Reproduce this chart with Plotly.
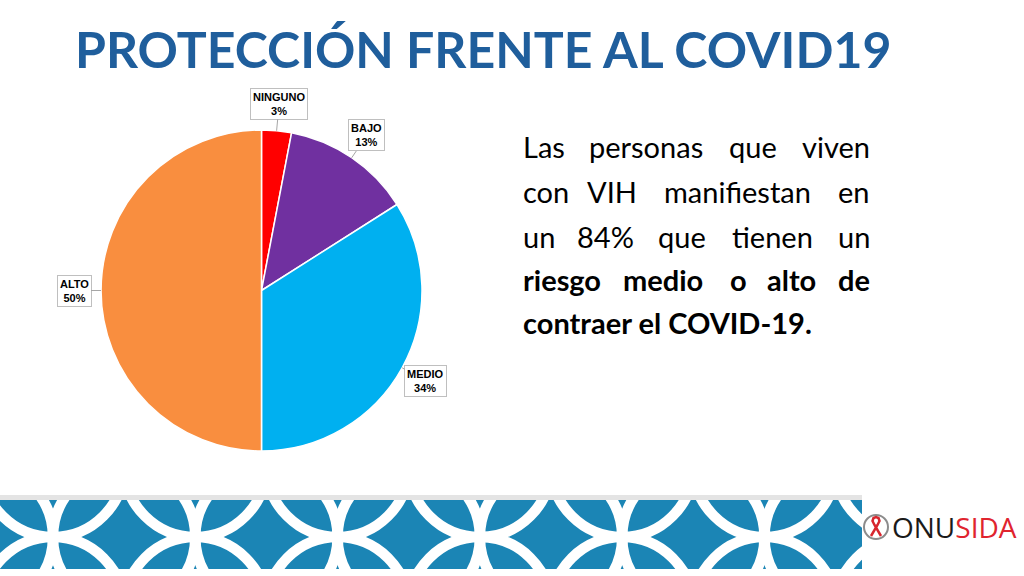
import numpy as np
import plotly.graph_objects as go

W, H = 1024, 576

# ---- data ----
categories = ["NINGUNO", "BAJO", "MEDIO", "ALTO"]
values = [3, 13, 34, 50]
slice_colors = ["#FF0000", "#7030A0", "#00B0F0", "#F98E3F"]

title_text = "PROTECCIÓN FRENTE AL COVID19"
body_words = [
    ["Las", "personas", "que", "viven"],
    ["con", "VIH", "manifiestan", "en"],
    ["un", "84%", "que", "tienen", "un"],
    ["riesgo", "medio", "o", "alto", "de"],
    ["contraer el COVID-19."],
]
body_bold = [False, False, False, True, True]

# ---- layout helpers ----
def px(x):
    return x / W


def py(y):
    return 1 - y / H


fig = go.Figure()

# pie
cx, cy, R = 261.5, 290.5, 160.5
fig.add_trace(go.Pie(
    labels=categories, values=values, sort=False, direction="clockwise",
    rotation=0, textinfo="none", hoverinfo="label+percent",
    marker=dict(colors=slice_colors, line=dict(color="white", width=1.5)),
    domain=dict(x=[px(cx - R), px(cx + R)], y=[py(cy + R), py(cy - R)]),
    showlegend=False,
))

annotations = []
vals = np.array(values, dtype=float)
total = vals.sum()
mids = (np.cumsum(vals) - vals / 2) / total * 2 * np.pi
lead = 27
for cat, v, th in zip(categories, vals, mids):
    hx = cx + R * np.sin(th)
    hy = cy - R * np.cos(th)
    annotations.append(dict(
        x=px(hx), y=py(hy), xref="paper", yref="paper",
        text=f"<b>{cat}</b><br><b>{round(v / total * 100)}%</b>",
        showarrow=True, ax=lead * np.sin(th), ay=-lead * np.cos(th),
        arrowhead=0, arrowwidth=1, arrowcolor="#A6A6A6", standoff=0,
        bgcolor="white", bordercolor="#BFBFBF", borderwidth=1, borderpad=2,
        font=dict(family="Liberation Sans, Arial", size=11, color="#000000"),
        align="center",
    ))

# title
annotations.append(dict(
    x=px(482.5), y=py(49), xref="paper", yref="paper", showarrow=False,
    text=f"<b>{title_text}</b>", xanchor="center", yanchor="middle",
    font=dict(family="Lato", size=50, color="#1F5E9C"),
))

# body text, justified by word placement
word_x = [
    [521, 646, 753, 872],
    [521, 612, 737.5, 872],
    [521, 605, 681.5, 772.5, 872],
    [521, 662.5, 738.5, 791, 872],
    [521],
]
line_y = [147, 192, 236, 279, 322]
for words, xs, yy, bold in zip(body_words, word_x, line_y, body_bold):
    n = len(words)
    for i, (w, xx) in enumerate(zip(words, xs)):
        if i == 0:
            anchor = "left"
        elif i == n - 1:
            anchor = "right"
        else:
            anchor = "center"
        annotations.append(dict(
            x=px(xx), y=py(yy), xref="paper", yref="paper", showarrow=False,
            text=f"<b>{w}</b>" if bold else w, xanchor=anchor, yanchor="middle",
            font=dict(family="Lato", size=29, color="#000000"),
        ))

# logo text
annotations.append(dict(
    x=px(954.5), y=py(527), xref="paper", yref="paper", showarrow=False,
    text="ONU<span style='color:#E0242E'>SIDA</span>", xanchor="center", yanchor="middle",
    font=dict(family="Open Sans", size=28, color="#1A1A1A"),
))

shapes = []
# gray strip above banner
shapes.append(dict(type="rect", xref="paper", yref="paper",
                   x0=0, x1=px(862), y0=py(500), y1=py(495),
                   fillcolor="#E4E4E4", line=dict(width=0), layer="below"))

# banner pattern (interlocking circles), clipped by banner axes
period = 142.3
j0 = 53.0
rb = period / 2
ym = 537.0
centers = []
for k in range(-1, 8):
    centers.append((j0 + rb + period * k, ym))
for k in range(-1, 8):
    centers.append((j0 + period * k, ym - rb))
    centers.append((j0 + period * k, ym + rb))
for (ccx, ccy) in centers:
    shapes.append(dict(type="circle", xref="x", yref="y",
                       x0=ccx - rb, x1=ccx + rb, y0=ccy - rb, y1=ccy + rb,
                       line=dict(color="white", width=10.5), fillcolor="rgba(0,0,0,0)"))

# emblem: wreath ring with red ribbon
ex, ey, er = 876, 527, 12
shapes.append(dict(type="circle", xref="paper", yref="paper",
                   x0=px(ex - er), x1=px(ex + er), y0=py(ey + er), y1=py(ey - er),
                   line=dict(color="#8C8C8C", width=2)))
rib = [(-5, 9), (1.5, -2), (3.5, -6), (2.5, -9), (0, -10), (-2.5, -9), (-3.5, -6), (-1.5, -2), (5, 9)]
path = "M " + " L ".join(f"{px(ex + a):.5f},{py(ey + b):.5f}" for a, b in rib)
shapes.append(dict(type="path", xref="paper", yref="paper", path=path,
                   line=dict(color="#D7262E", width=2.5)))

# empty trace to create banner axes
fig.add_trace(go.Scatter(x=[None], y=[None], xaxis="x", yaxis="y",
                         showlegend=False, hoverinfo="skip"))

fig.update_layout(
    width=W, height=H, margin=dict(l=0, r=0, t=0, b=0),
    paper_bgcolor="white", plot_bgcolor="#1B85B5",
    xaxis=dict(domain=[0, px(862)], range=[0, 862], visible=False, fixedrange=True),
    yaxis=dict(domain=[py(569), py(500)], range=[569, 500], visible=False, fixedrange=True),
    annotations=annotations, shapes=shapes,
)

fig.write_html("out.html", config={"displayModeBar": False},
               post_script="document.body.style.margin='0';document.body.style.padding='0';")
